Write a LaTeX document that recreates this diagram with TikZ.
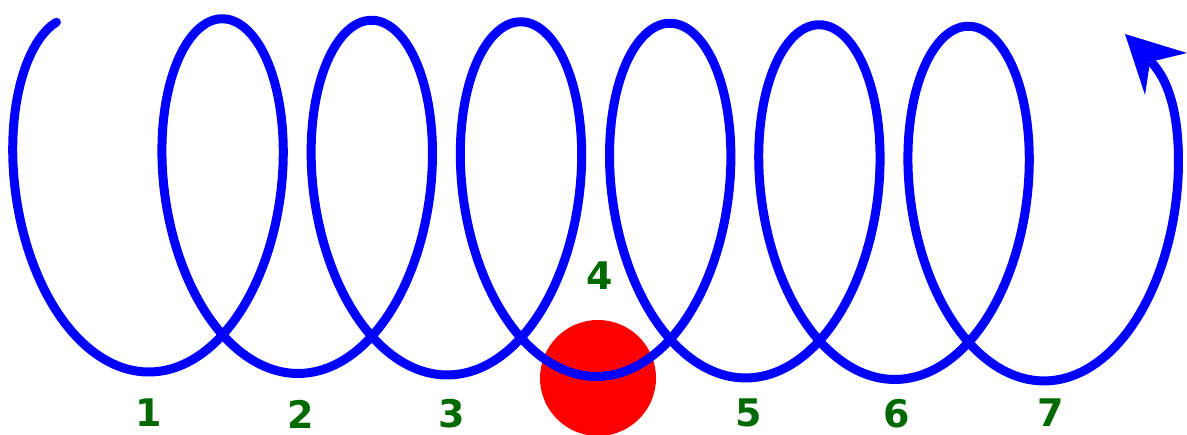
\documentclass[tikz,border=0pt]{standalone}
\usepackage{fontspec}
\newfontfamily\labfont{DejaVu Sans}
\definecolor{helixblue}{RGB}{0,0,255}
\definecolor{ballred}{RGB}{255,0,0}
\definecolor{labgreen}{RGB}{0,105,0}
\begin{document}
\begin{tikzpicture}[x=1pt,y=-1pt,
  helix/.style={draw=helixblue,line width=9pt,line cap=round,line join=round},
  lab/.style={text=labgreen,font=\labfont\bfseries\fontsize{38}{38}\selectfont,inner sep=0pt,anchor=center}]
\useasboundingbox (0,0) rectangle (1187,435);
% red ball
\fill[ballred] (598,378) circle[radius=58];
% helix
\draw[helix] plot[domain=-2.9:39.7,samples=700,smooth,variable=\t]
  ({148+23.746*\t+95*sin(\t r)},{195+177*cos(\t r)+0.2375*\t+0.95*sin(\t r)})
  coordinate (hend);
\coordinate (notch) at (1151,62);
\draw[helix,line cap=butt] (hend) .. controls (1173,92) and (1161,72) .. (notch);
% arrowhead
\fill[helixblue] (1125,34) -- (1145,95) -- (1150,62) -- (1187,53) -- cycle;
% labels
\node[lab] (n1) at (149,413) {1};
\node[lab] (n2) at (301,414) {2};
\node[lab] (n3) at (452,414) {3};
\node[lab] (n4) at (600,276) {4};
\node[lab] (n5) at (749,413) {5};
\node[lab] (n6) at (897,414) {6};
\node[lab] (n7) at (1051,413) {7};
\end{tikzpicture}
\end{document}
